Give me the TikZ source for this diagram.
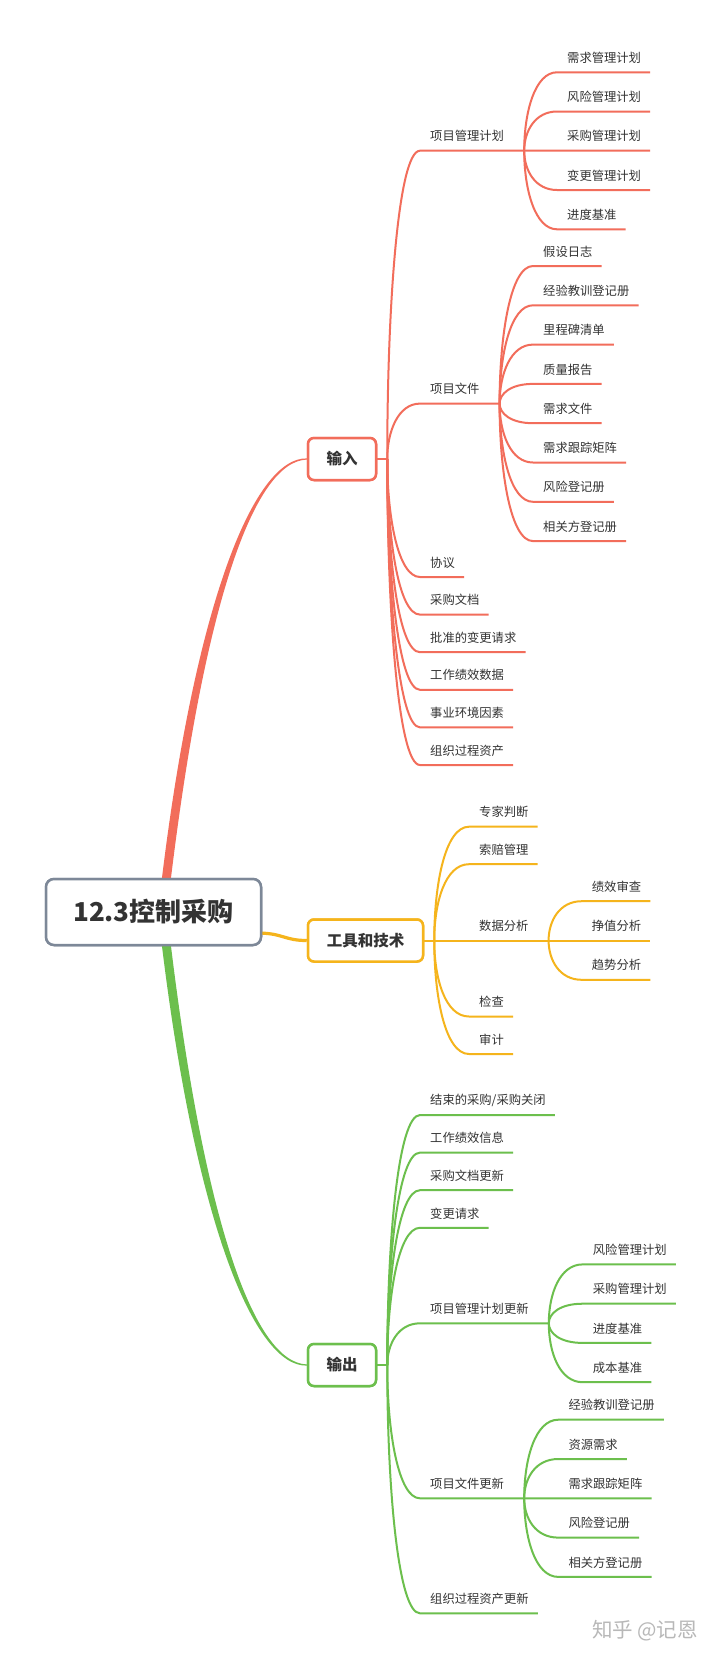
\documentclass[tikz,border=0pt]{standalone}
\usepackage{fontspec}
\setmainfont{Noto Sans CJK SC}
\usetikzlibrary{calc}
\definecolor{cred}{HTML}{F26D5B}
\definecolor{cyel}{HTML}{F5B41C}
\definecolor{cgrn}{HTML}{6CBF4D}
\definecolor{cmain}{HTML}{7D8898}
\definecolor{ctext}{HTML}{333333}
\tikzset{
  topicbase/.style={inner xsep=0pt, inner ysep=0pt, minimum height=28.6pt, anchor=south west,
    font=\fontsize{12.3}{14}\selectfont, text=ctext, execute at begin node={\hspace*{10pt}}},
  lf/.style={topicbase, execute at end node={\hspace*{9pt}}},
  pr/.style={topicbase, execute at end node={\hspace*{20pt}}},
  lnk/.style={line width=2pt, line join=round},
  rl/.style={lnk, draw=cred},
  yl/.style={lnk, draw=cyel},
  gl/.style={lnk, draw=cgrn},
  boxb/.style={draw, line width=2.5pt, fill=white, rounded corners=6pt, inner sep=0pt,
    font=\bfseries\fontsize{15.5}{18}\selectfont, text=ctext},
  mainbox/.style={draw=cmain, line width=2.5pt, fill=white, rounded corners=8pt, inner sep=0pt,
    minimum width=215pt, minimum height=66pt, font=\bfseries\fontsize{26}{30}\selectfont, text=ctext}
}
\newcommand\mmlink[3]{\draw[#1] (#2) .. controls ($(#2)!0.5!(#2|-#3.south west)$) and ($(#2|-#3.south west)+(11,0)$) .. (#3.south west) -- (#3.south east);}
\begin{document}
\begin{tikzpicture}[x=1pt,y=-1pt]
\useasboundingbox[fill=white] (0,0) rectangle (720,1660);

% ---------- level-1 and level-2 boxes (positions) ----------
\node[mainbox] (main) at (153.5,912) {12.3控制采购};
\node[boxb, draw=cred, minimum width=68pt, minimum height=42pt] (in) at (342,459) {输入};
\node[boxb, draw=cyel, minimum width=115pt, minimum height=42pt] (tt) at (365.5,940.5) {工具和技术};
\node[boxb, draw=cgrn, minimum width=68pt, minimum height=42pt] (out) at (342,1365) {输出};
\coordinate (hin) at ($(in.east)+(10,0)$);
\coordinate (htt) at ($(tt.east)+(10,0)$);
\coordinate (hout) at ($(out.east)+(10,0)$);

% ---------- red: 输入 ----------
\node[pr] (a1) at (420,150.7) {项目管理计划};
\node[lf] (a11) at (557,72.3) {需求管理计划};
\node[lf] (a12) at (557,111.5) {风险管理计划};
\node[lf] (a13) at (557,150.7) {采购管理计划};
\node[lf] (a14) at (557,190) {变更管理计划};
\node[lf] (a15) at (557,229.3) {进度基准};
\node[pr] (a2) at (420,403.6) {项目文件};
\node[lf] (a21) at (533,266) {假设日志};
\node[lf] (a22) at (533,305.3) {经验教训登记册};
\node[lf] (a23) at (533,344.6) {里程碑清单};
\node[lf] (a24) at (533,383.9) {质量报告};
\node[lf] (a25) at (533,423.2) {需求文件};
\node[lf] (a26) at (533,462.5) {需求跟踪矩阵};
\node[lf] (a27) at (533,501.8) {风险登记册};
\node[lf] (a28) at (533,541.1) {相关方登记册};
\node[lf] (a3) at (420,577) {协议};
\node[lf] (a4) at (420,614.6) {采购文档};
\node[lf] (a5) at (420,652.2) {批准的变更请求};
\node[lf] (a6) at (420,689.8) {工作绩效数据};
\node[lf] (a7) at (420,727.4) {事业环境因素};
\node[lf] (a8) at (420,765) {组织过程资产};

\draw[rl] (in.east) -- (hin);
\foreach \n in {a1,a2,a3,a4,a5,a6,a7,a8} {\mmlink{rl}{hin}{\n}}
\foreach \n in {a11,a12,a13,a14,a15} {\mmlink{rl}{a1.south east}{\n}}
\foreach \n in {a21,a22,a23,a24,a25,a26,a27,a28} {\mmlink{rl}{a2.south east}{\n}}

% ---------- yellow: 工具和技术 ----------
\node[lf] (b1) at (469,826.7) {专家判断};
\node[lf] (b2) at (469,864.2) {索赔管理};
\node[pr] (b3) at (469,940.5) {数据分析};
\node[lf] (b31) at (581.7,901.2) {绩效审查};
\node[lf] (b32) at (581.7,940.5) {挣值分析};
\node[lf] (b33) at (581.7,979.8) {趋势分析};
\node[lf] (b4) at (469,1016.5) {检查};
\node[lf] (b5) at (469,1054) {审计};

\draw[yl] (tt.east) -- (htt);
\foreach \n in {b1,b2,b3,b4,b5} {\mmlink{yl}{htt}{\n}}
\foreach \n in {b31,b32,b33} {\mmlink{yl}{b3.south east}{\n}}

% ---------- green: 输出 ----------
\node[lf] (c1) at (420,1115) {结束的采购/采购关闭};
\node[lf] (c2) at (420,1152.6) {工作绩效信息};
\node[lf] (c3) at (420,1190.2) {采购文档更新};
\node[lf] (c4) at (420,1227.8) {变更请求};
\node[pr] (c5) at (420,1323.3) {项目管理计划更新};
\node[lf] (c51) at (582.7,1264.4) {风险管理计划};
\node[lf] (c52) at (582.7,1303.7) {采购管理计划};
\node[lf] (c53) at (582.7,1342.9) {进度基准};
\node[lf] (c54) at (582.7,1382.2) {成本基准};
\node[pr] (c6) at (420,1498.3) {项目文件更新};
\node[lf] (c61) at (558.3,1419.7) {经验教训登记册};
\node[lf] (c62) at (558.3,1459) {资源需求};
\node[lf] (c63) at (558.3,1498.3) {需求跟踪矩阵};
\node[lf] (c64) at (558.3,1537.6) {风险登记册};
\node[lf] (c65) at (558.3,1576.9) {相关方登记册};
\node[lf] (c7) at (420,1613.3) {组织过程资产更新};

\draw[gl] (out.east) -- (hout);
\foreach \n in {c1,c2,c3,c4,c5,c6,c7} {\mmlink{gl}{hout}{\n}}
\foreach \n in {c51,c52,c53,c54} {\mmlink{gl}{c5.south east}{\n}}
\foreach \n in {c61,c62,c63,c64,c65} {\mmlink{gl}{c6.south east}{\n}}

% ---------- main branches (tapered) ----------
\fill[cred] ($(main.north west)+(117,2)$) .. controls +(34,-280) and +(-52,-1.2) .. ($(in.west)+(0,-0.6)$)
  -- ($(in.west)+(0,0.6)$) .. controls +(-52,1.6) and +(34,-280) .. ($(main.north west)+(126,2)$) -- cycle;
\fill[cgrn] ($(main.south west)+(117,-2)$) .. controls +(34,280) and +(-52,1.2) .. ($(out.west)+(0,0.6)$)
  -- ($(out.west)+(0,-0.6)$) .. controls +(-52,-1.6) and +(34,280) .. ($(main.south west)+(126,-2)$) -- cycle;
\draw[cyel, line width=3.2pt] ($(main.east)+(-3,21)$) .. controls +(24,0.5) and +(-22,0) .. (tt.west);

% redraw boxes on top
\node[mainbox] at (main.center) {12.3控制采购};
\node[boxb, draw=cred, minimum width=68pt, minimum height=42pt] at (in.center) {输入};
\node[boxb, draw=cyel, minimum width=115pt, minimum height=42pt] at (tt.center) {工具和技术};
\node[boxb, draw=cgrn, minimum width=68pt, minimum height=42pt] at (out.center) {输出};

% watermark
\node[text=black!28, font=\fontsize{20.5}{24}\selectfont] (wm) at (645,1631) {知乎 @记恩};
\end{tikzpicture}
\end{document}
